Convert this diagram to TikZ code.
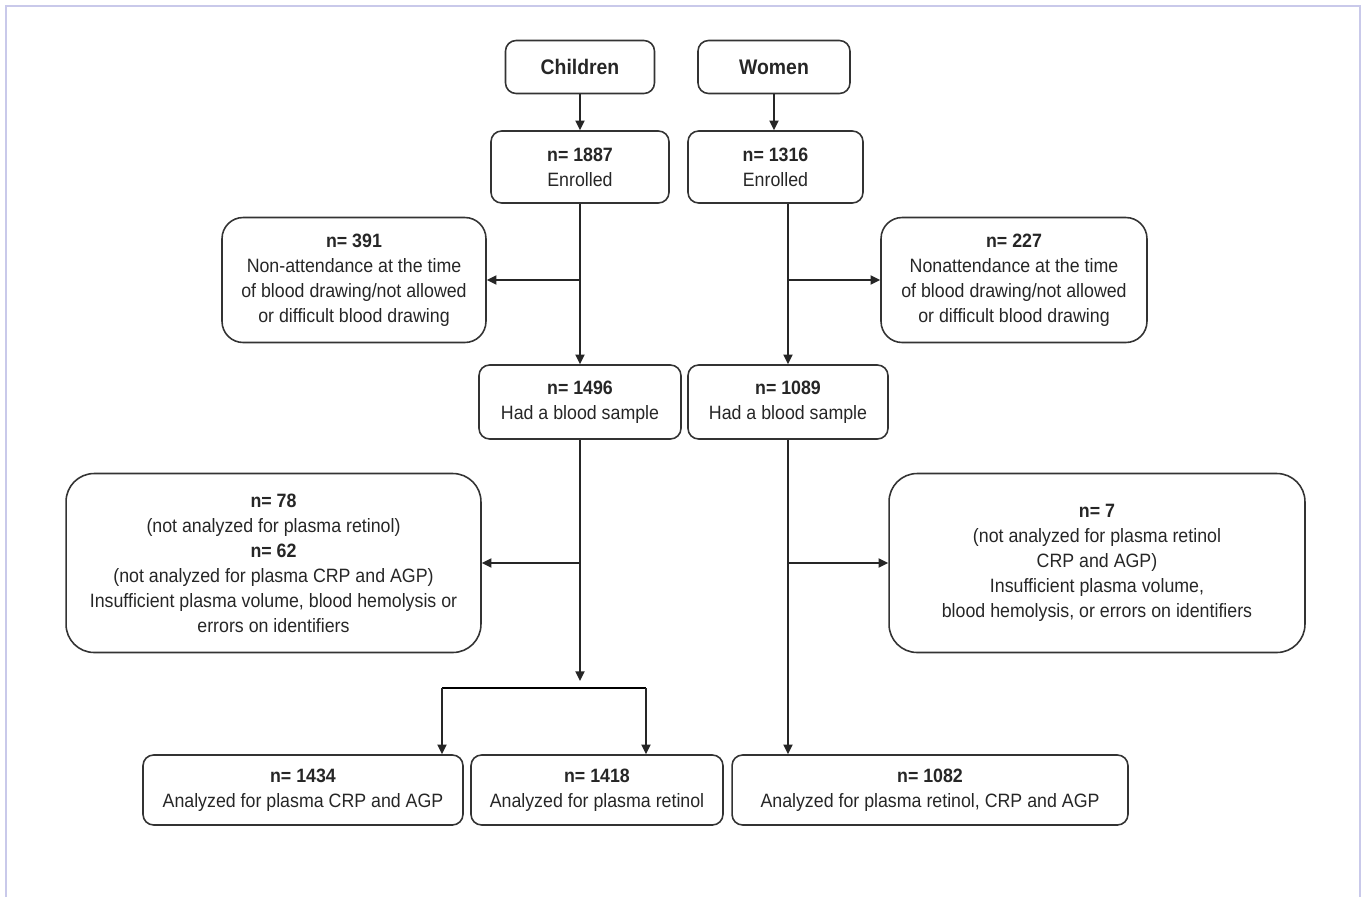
\documentclass[tikz,border=0pt]{standalone}
\usepackage{fontspec}
\setmainfont{Liberation Sans}[FakeStretch=0.92]
\usetikzlibrary{arrows.meta, positioning}
\definecolor{cline}{HTML}{333333}
\definecolor{cframe}{HTML}{C9C9EA}
\tikzset{
  every picture/.style={line width=0.9pt},
  box/.style={draw=cline, rounded corners=#1, align=center, inner sep=2pt, text=black!85, font=\fontsize{11}{14.2}\selectfont},
  box/.default=6pt,
  head/.style={font=\bfseries\fontsize{12}{14}\selectfont},
  arrow/.style={-{Triangle[length=5.5pt, width=5.2pt]}, draw=black!85},
}
\begin{document}
\begin{tikzpicture}[x=0.02cm, y=-0.02cm]
  \useasboundingbox (0,0) rectangle (1363,897);
  \draw[cframe, line width=1pt] (6,897) -- (6,6) -- (1360,6) -- (1360,897);
  \node[box, head, minimum width=2.98cm, minimum height=1.06cm] (chi) at (580,67) {Children};
  \node[box, head, minimum width=3.04cm, minimum height=1.06cm] (wom) at (774,67) {Women};
  \node[box, minimum width=3.56cm, minimum height=1.44cm] (cenr) at (580,167) {\textbf{n= 1887}\\Enrolled};
  \node[box, minimum width=3.5cm, minimum height=1.44cm] (wenr) at (775.5,167) {\textbf{n= 1316}\\Enrolled};
  \node[box=12pt, minimum width=5.28cm, minimum height=2.5cm] (cex1) at (354,280) {\textbf{n= 391}\\Non-attendance at the time\\of blood drawing/not allowed\\or difficult blood drawing};
  \node[box=12pt, minimum width=5.32cm, minimum height=2.5cm] (wex1) at (1014,280) {\textbf{n= 227}\\Nonattendance at the time\\of blood drawing/not allowed\\or difficult blood drawing};
  \node[box, minimum width=4.04cm, minimum height=1.48cm] (cbld) at (580,402) {\textbf{n= 1496}\\Had a blood sample};
  \node[box, minimum width=4.0cm, minimum height=1.48cm] (wbld) at (788,402) {\textbf{n= 1089}\\Had a blood sample};
  \draw[arrow] (chi.south) -- (chi.south |- cenr.north);
  \draw[arrow] (wom.south) -- (wom.south |- wenr.north);
  \draw[arrow] (cenr.south) -- (cenr.south |- cbld.north);
  \draw[arrow] (cenr.south |- cex1.east) -- (cex1.east);
  \draw[arrow] (wbld.north |- wenr.south) -- (wbld.north);
  \draw[arrow] (wbld.north |- wex1.west) -- (wex1.west);
  % second exclusions
  \node[box=16pt, minimum width=8.3cm, minimum height=3.58cm] (cex2) at (273.5,563) {\textbf{n= 78}\\(not analyzed for plasma retinol)\\\textbf{n= 62}\\(not analyzed for plasma CRP and AGP)\\Insufficient plasma volume, blood hemolysis or\\errors on identifiers};
  \node[box=16pt, minimum width=8.32cm, minimum height=3.58cm] (wex2) at (1097,563) {\textbf{n= 7}\\(not analyzed for plasma retinol\\CRP and AGP)\\Insufficient plasma volume,\\blood hemolysis, or errors on identifiers};
  \node[box, minimum width=6.4cm, minimum height=1.4cm] (crp) at (303,790) {\textbf{n= 1434}\\Analyzed for plasma CRP and AGP};
  \node[box, minimum width=5.04cm, minimum height=1.4cm] (ret) at (597,790) {\textbf{n= 1418}\\Analyzed for plasma retinol};
  \node[box, minimum width=7.92cm, minimum height=1.4cm] (all) at (930,790) {\textbf{n= 1082}\\Analyzed for plasma retinol, CRP and AGP};
  \coordinate (stop) at (580,681);
  \coordinate (sl) at (442,688);
  \coordinate (sr) at (646,688);
  \draw[arrow] (cbld.south) -- (stop);
  \draw[arrow] (cbld.south |- cex2.east) -- (cex2.east);
  \draw (sl) -- (sr);
  \draw[arrow] (sl) -- (sl |- crp.north);
  \draw[arrow] (sr) -- (sr |- ret.north);
  \draw[arrow] (wbld.south) -- (wbld.south |- all.north);
  \draw[arrow] (wbld.south |- wex2.west) -- (wex2.west);
\end{tikzpicture}
\end{document}
